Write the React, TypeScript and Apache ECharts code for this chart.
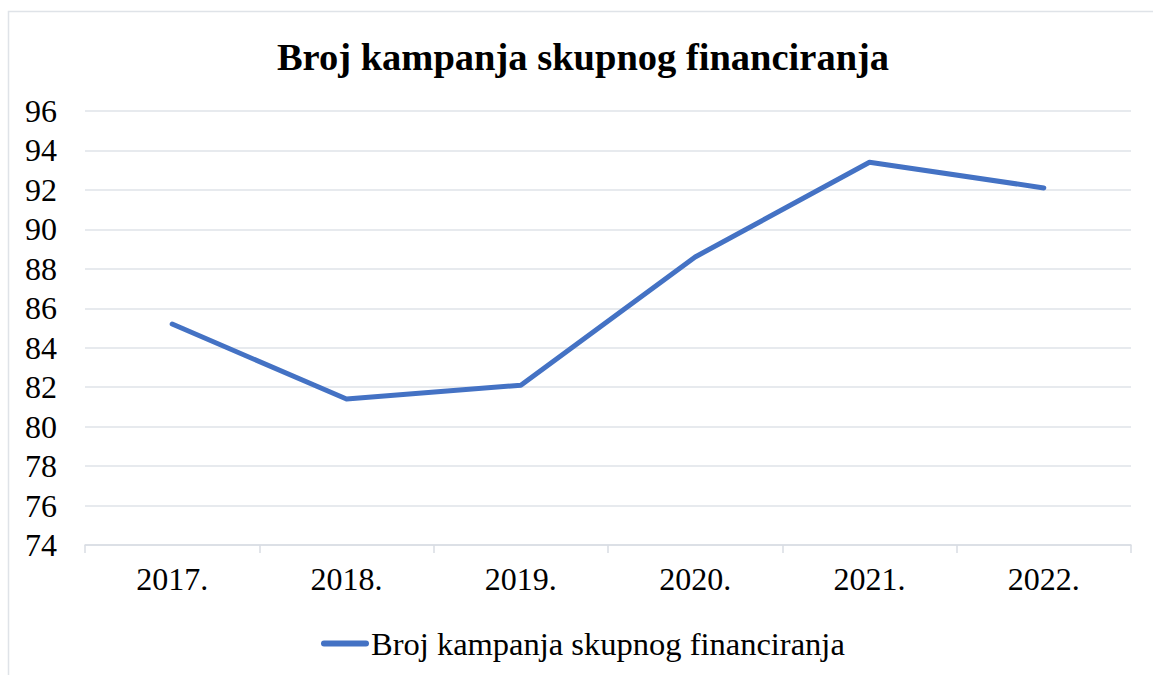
import React, { useEffect, useRef } from "react";
import * as echarts from "echarts";

const categories = ["2017.", "2018.", "2019.", "2020.", "2021.", "2022."];
const values = [85.2, 81.4, 82.1, 88.6, 93.4, 92.1];
const seriesName = "Broj kampanja skupnog financiranja";
const titleText = "Broj kampanja skupnog financiranja";

export default function App() {
  const ref = useRef<HTMLDivElement>(null);
  useEffect(() => {
    if (!ref.current) return;
    const chart = echarts.init(ref.current, null, { renderer: "svg" });
    const font = "Liberation Serif";
    chart.setOption({
      animation: false,
      backgroundColor: "#ffffff",
      graphic: [
        {
          type: "rect",
          shape: { x: 8.5, y: 11.5, width: 1200, height: 700 },
          style: { fill: "none", stroke: "#dfe3e8", lineWidth: 1.5 },
          silent: true,
          z: -10,
        },
      ],
      title: {
        text: titleText,
        left: 578,
        textAlign: "center",
        top: 32,
        textStyle: { fontFamily: font, fontSize: 38.5, fontWeight: "bold", color: "#000" },
      },
      legend: {
        top: 622,
        left: 316,
        itemWidth: 48,
        itemHeight: 6,
        itemGap: 10,
        textStyle: { fontFamily: font, fontSize: 32.5, color: "#000", padding: [0, 0, 0, -3] },
        data: [{ name: seriesName, icon: "path://M3,0 L45,0 A3,3 0 0 1 45,6 L3,6 A3,3 0 0 1 3,0 Z" }],
      },
      grid: { left: 85, right: 22, top: 111, bottom: 130, containLabel: false },
      xAxis: {
        type: "category",
        data: categories,
        boundaryGap: true,
        axisLine: { show: true, lineStyle: { color: "#d9dde3", width: 1.5 } },
        axisTick: { show: true, length: 8, lineStyle: { color: "#d9dde3", width: 1.5 } },
        axisLabel: { fontFamily: font, fontSize: 32, color: "#000", margin: 18 },
        splitLine: { show: false },
      },
      yAxis: {
        type: "value",
        min: 74,
        max: 96,
        interval: 2,
        axisLine: { show: false },
        axisTick: { show: false },
        axisLabel: { fontFamily: font, fontSize: 32, color: "#000", margin: 28 },
        splitLine: { show: true, lineStyle: { color: "#dfe3e8", width: 1.5 } },
      },
      series: [
        {
          name: seriesName,
          type: "line",
          data: values,
          symbol: "none",
          lineStyle: { color: "#4472c4", width: 5, cap: "round", join: "round" },
          itemStyle: { color: "#4472c4" },
        },
      ],
    });
    return () => chart.dispose();
  }, []);
  return (
    <div
      ref={ref}
      style={{ position: "fixed", left: 0, top: 0, width: 1153, height: 675, background: "#fff" }}
    />
  );
}
